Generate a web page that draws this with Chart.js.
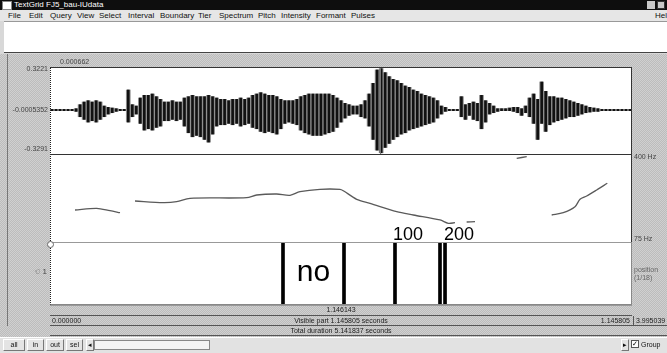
<!DOCTYPE html>
<html>
<head>
<meta charset="utf-8">
<script src="https://cdn.jsdelivr.net/npm/chart.js@4.4.1/dist/chart.umd.min.js"></script>
<style>
  body { margin: 0; width: 667px; height: 353px; overflow: hidden; position: relative;
         font-family: "Liberation Sans", Arial, sans-serif; background: #d8d8d8; }
  .a { position: absolute; white-space: nowrap; }
  .t7 { font-size: 7px; color: #444; line-height: 8px; }
  .menu { top: 11px; font-size: 8px; color: #111; line-height: 9px; }
  .gray { background-color: #c6c6c6;
          background-image: repeating-conic-gradient(#bcbcbc 0 25%, #d0d0d0 0 50%);
          background-size: 2px 2px; }
  .btn { top: 339px; height: 12px; background: #e4e4e4; border: 1px solid #777;
         border-top-color: #fff; border-left-color: #fff; box-sizing: border-box;
         font-size: 7px; line-height: 10px; text-align: center; color: #111; }
  canvas { position: absolute; }
</style>
</head>
<body>

<!-- window title and menu -->
<div class="a" style="left:0;top:0;width:667px;height:10px;background:#0e0e0e"></div>
<div class="a" style="left:2px;top:1px;width:8px;height:7px;background:#fff;border:1px solid #888"></div>
<div class="a" style="left:14px;top:0;font-size:8px;line-height:10px;color:#fff">TextGrid FJ5_bau-IUdata</div>
<div class="a" style="left:647px;top:1px;width:8px;height:8px;background:#c8c8c8"></div>
<div class="a" style="left:657px;top:1px;width:8px;height:8px;background:#c8c8c8;border:1px solid #333;box-sizing:border-box"></div>
<div class="a" style="left:0;top:10px;width:667px;height:11px;background:#e6e6e6"></div>
<div class="a menu" style="left:8px">File</div>
<div class="a menu" style="left:29px">Edit</div>
<div class="a menu" style="left:50px">Query</div>
<div class="a menu" style="left:77px">View</div>
<div class="a menu" style="left:99px">Select</div>
<div class="a menu" style="left:128px">Interval</div>
<div class="a menu" style="left:160px">Boundary</div>
<div class="a menu" style="left:198px">Tier</div>
<div class="a menu" style="left:219px">Spectrum</div>
<div class="a menu" style="left:258px">Pitch</div>
<div class="a menu" style="left:281px">Intensity</div>
<div class="a menu" style="left:316px">Formant</div>
<div class="a menu" style="left:351px">Pulses</div>
<div class="a menu" style="left:655px">Help</div>

<!-- text field -->
<div class="a" style="left:4px;top:21px;width:663px;height:32px;background:#fff;border-top:1px solid #999;border-bottom:1px solid #444;box-sizing:border-box"></div>

<!-- editor area -->
<div class="a gray" style="left:0;top:54px;width:667px;height:283px"></div>
<div class="a" style="left:7px;top:54px;width:1px;height:272px;background:#777"></div>
<div class="a" style="left:50px;top:67px;width:582px;height:238px;background:#fff"></div>

<canvas id="wave" width="582" height="87" style="left:50px;top:67px"></canvas>
<canvas id="pitch" width="582" height="88" style="left:50px;top:154px"></canvas>
<canvas id="tier" width="582" height="85" style="left:50px;top:220px"></canvas>

<!-- frames, cursor -->
<div class="a" style="left:50px;top:67px;width:582px;height:88px;border:1px solid #333;border-left:1px dotted #222;box-sizing:border-box"></div>
<div class="a" style="left:50px;top:154px;width:582px;height:89px;border:1px solid #333;border-left:1px dotted #222;border-top:none;box-sizing:border-box"></div>
<div class="a" style="left:50px;top:242px;width:582px;height:63px;border-left:1px dotted #222;border-right:1px solid #888;border-top:1px solid #999;border-bottom:1px solid #888;box-sizing:border-box"></div>
<div class="a" style="left:380px;top:68px;width:1px;height:86px;background:#777"></div>
<div class="a" style="left:47px;top:241px;width:5px;height:5px;border:1px solid #666;border-radius:50%;background:#fff"></div>

<!-- axis texts -->
<div class="a t7" style="left:60px;top:58px">0.000662</div>
<div class="a t7" style="right:619px;top:65px">0.3221</div>
<div class="a t7" style="right:619px;top:106px">-0.0005352</div>
<div class="a t7" style="right:619px;top:145px">-0.3291</div>
<div class="a t7" style="left:634px;top:153px">400 Hz</div>
<div class="a t7" style="left:634px;top:235px">75 Hz</div>
<div class="a t7" style="left:634px;top:266px;color:#666">position<br>(1/18)</div>
<div class="a t7" style="right:620px;top:268px;font-size:8px">&#9756; 1</div>

<!-- time rows -->
<div class="a" style="left:50px;top:305px;width:582px;height:11px;border-top:1px solid #999;border-bottom:1px solid #555;box-sizing:border-box"></div>
<div class="a t7" style="left:50px;top:306px;width:582px;text-align:center;color:#222">1.146143</div>
<div class="a" style="left:50px;top:316px;width:617px;height:10px;border-bottom:1px solid #555;box-sizing:border-box"></div>
<div class="a" style="left:633px;top:316px;width:1px;height:10px;background:#555"></div>
<div class="a t7" style="left:52px;top:317px;color:#222">0.000000</div>
<div class="a t7" style="left:50px;top:317px;width:582px;text-align:center;color:#222">Visible part 1.145805 seconds</div>
<div class="a t7" style="right:37px;top:317px;color:#222">1.145805</div>
<div class="a t7" style="left:636px;top:317px;color:#222">3.995039</div>
<div class="a" style="left:50px;top:326px;width:617px;height:10px;border-bottom:1px solid #555;box-sizing:border-box"></div>
<div class="a t7" style="left:50px;top:327px;width:582px;text-align:center;color:#222">Total duration 5.141837 seconds</div>

<!-- bottom bar -->
<div class="a" style="left:0;top:337px;width:667px;height:16px;background:#e2e2e2;border-top:1px solid #fff;box-sizing:border-box"></div>
<div class="a btn" style="left:3px;width:22px">all</div>
<div class="a btn" style="left:27px;width:17px">in</div>
<div class="a btn" style="left:46px;width:18px">out</div>
<div class="a btn" style="left:66px;width:17px">sel</div>
<div class="a btn" style="left:86px;width:8px">&#9666;</div>
<div class="a" style="left:94px;top:340px;width:116px;height:10px;background:#f4f4f4;border:1px solid #888;box-sizing:border-box"></div>
<div class="a btn" style="left:621px;width:8px">&#9656;</div>
<div class="a" style="left:631px;top:340px;width:8px;height:8px;background:#fff;border:1px solid #555;box-sizing:border-box;font-size:7px;line-height:6px;text-align:center">&#10003;</div>
<div class="a" style="left:641px;top:340px;font-size:7px;line-height:9px;color:#111">Group</div>

<script>
// Sound: peak envelope per display column (max / min amplitude)
const waveHi = [
  0.005, 0.005, 0.005, 0.005, 0.005, 0.005, 0.01, 0.04, 0.06, 0.07,
  0.06, 0.07, 0.06, 0.03, 0.02, 0.015, 0.01, 0.005, 0.005, 0.15,
  0.04, 0.03, 0.09, 0.11, 0.11, 0.12, 0.10, 0.08, 0.06, 0.06,
  0.07, 0.06, 0.06, 0.09, 0.10, 0.11, 0.10, 0.10, 0.10, 0.11,
  0.10, 0.09, 0.08, 0.08, 0.07, 0.08, 0.08, 0.09, 0.08, 0.09,
  0.11, 0.12, 0.13, 0.12, 0.11, 0.11, 0.10, 0.08, 0.07, 0.07,
  0.07, 0.08, 0.10, 0.11, 0.12, 0.12, 0.12, 0.12, 0.12, 0.12,
  0.11, 0.09, 0.07, 0.05, 0.04, 0.03, 0.03, 0.04, 0.07, 0.12,
  0.20, 0.30, 0.31, 0.28, 0.25, 0.23, 0.22, 0.20, 0.18, 0.17,
  0.15, 0.14, 0.12, 0.11, 0.10, 0.09, 0.07, 0.03, 0.02, 0.005,
  0.005, 0.005, 0.10, 0.04, 0.05, 0.06, 0.05, 0.11, 0.07, 0.05,
  0.03, 0.01, 0.01, 0.01, 0.015, 0.02, 0.02, 0.01, 0.03, 0.09,
  0.12, 0.08, 0.21, 0.14, 0.10, 0.10, 0.09, 0.09, 0.08, 0.07,
  0.06, 0.05, 0.04, 0.03, 0.02, 0.015, 0.01, 0.005, 0.005, 0.005,
  0.005, 0.005, 0.005, 0.005, 0.005
];
const waveLo = [
  -0.005, -0.005, -0.005, -0.005, -0.005, -0.005, -0.01, -0.05, -0.07, -0.09,
  -0.08, -0.09, -0.07, -0.05, -0.03, -0.02, -0.01, -0.005, -0.005, -0.09,
  -0.05, -0.03, -0.10, -0.15, -0.14, -0.15, -0.13, -0.12, -0.08, -0.08,
  -0.07, -0.08, -0.07, -0.12, -0.17, -0.20, -0.19, -0.20, -0.22, -0.24,
  -0.18, -0.12, -0.11, -0.11, -0.10, -0.11, -0.10, -0.12, -0.11, -0.10,
  -0.13, -0.14, -0.16, -0.17, -0.16, -0.17, -0.18, -0.14, -0.10, -0.09,
  -0.10, -0.11, -0.15, -0.17, -0.18, -0.19, -0.19, -0.19, -0.18, -0.17,
  -0.16, -0.13, -0.09, -0.06, -0.04, -0.03, -0.03, -0.05, -0.06, -0.12,
  -0.22, -0.30, -0.32, -0.28, -0.25, -0.22, -0.20, -0.18, -0.17, -0.15,
  -0.14, -0.13, -0.12, -0.11, -0.10, -0.09, -0.06, -0.03, -0.01, -0.005,
  -0.005, -0.005, -0.05, -0.07, -0.04, -0.07, -0.08, -0.14, -0.09, -0.03,
  -0.02, -0.01, -0.005, -0.005, -0.005, -0.01, -0.02, -0.04, -0.02, -0.05,
  -0.10, -0.22, -0.10, -0.16, -0.11, -0.09, -0.08, -0.07, -0.06, -0.05,
  -0.05, -0.04, -0.03, -0.02, -0.015, -0.01, -0.01, -0.005, -0.005, -0.005,
  -0.005, -0.005, -0.005, -0.005, -0.005
];
const ampMin = -0.3291, ampMax = 0.3221;

// Pitch contour (s, Hz), one array pair per voiced stretch
const pitchT1 = [0.0492, 0.0919, 0.1181, 0.1378];
const pitchF1 = [193.2, 199.5, 190.6, 183.2];
const pitchT2 = [0.1673, 0.2231, 0.2494, 0.2756, 0.3872, 0.4069, 0.4463, 0.4725, 0.4922, 0.5315,
                 0.5709, 0.5774, 0.6038, 0.6300, 0.6825, 0.7152, 0.7678, 0.7841, 0.7973];
const pitchF2 = [226.4, 220.2, 223.8, 236.4, 238.6, 248.6, 252.3, 247.5, 260.8, 269.6,
                 269.6, 264.5, 232.7, 217.9, 186.9, 174.7, 156.3, 144.1, 146.3];
const pitchT3 = [0.8203, 0.8367];
const pitchF3 = [148.9, 150.0];
const pitchT4 = [0.9188, 0.9385];
const pitchF4 = [384.1, 390.0];
const pitchT5 = [0.9877, 1.0105, 1.0336, 1.0434, 1.0566, 1.0763, 1.0972];
const pitchF5 = [174.7, 183.2, 205.4, 232.7, 244.9, 267.1, 291.8];
const pitchMin = 75, pitchMax = 400;

// TextGrid tier
const boundaries = [0.4587, 0.5788, 0.6792, 0.7678, 0.7777];
const intervalText = ['no'];            // text of interval boundaries[0]..boundaries[1]
const markTexts = ['100', '200'];
const markTimes = [0.7048, 0.8052];
const tStart = 0, tEnd = 1.145805;

Chart.defaults.animation = false;
Chart.defaults.devicePixelRatio = 1;
Chart.defaults.plugins.legend.display = false;
Chart.defaults.plugins.tooltip.enabled = false;

new Chart(document.getElementById('wave'), {
  type: 'bar',
  data: {
    labels: waveHi.map((_, i) => i),
    datasets: [
      { data: waveHi.map((h, i) => [waveLo[i], h]), backgroundColor: '#8e8e8e',
        barPercentage: 1, categoryPercentage: 1, grouped: false, order: 2 },
      { data: waveHi.map((h, i) => [waveLo[i], h]), backgroundColor: '#111',
        barThickness: 2, grouped: false, order: 1 }
    ]
  },
  options: {
    responsive: false,
    layout: { padding: 0 },
    scales: {
      x: { display: false, offset: true },
      y: { display: false, min: ampMin, max: ampMax }
    }
  }
});

const seg = (ts, fs) => ({
  data: ts.map((t, i) => ({ x: t, y: fs[i] })),
  borderColor: '#5a5a5a', borderWidth: 1.3, pointRadius: 0, tension: 0.3
});

new Chart(document.getElementById('pitch'), {
  type: 'line',
  data: {
    datasets: [
      seg(pitchT1, pitchF1), seg(pitchT2, pitchF2), seg(pitchT3, pitchF3),
      seg(pitchT4, pitchF4), seg(pitchT5, pitchF5)
    ]
  },
  options: {
    responsive: false,
    layout: { padding: 0 },
    scales: {
      x: { type: 'linear', display: false, min: tStart, max: tEnd },
      y: { display: false, min: pitchMin, max: pitchMax }
    }
  }
});

// interval text and point labels on top of the tier
const tierLabels = {
  id: 'tierLabels',
  afterDatasetsDraw(chart) {
    const { ctx, scales: { x }, chartArea } = chart;
    ctx.save();
    ctx.fillStyle = '#000';
    ctx.textAlign = 'center';
    ctx.textBaseline = 'middle';
    ctx.font = '30px "Liberation Sans", Arial, sans-serif';
    const mid = (x.getPixelForValue(boundaries[0]) + x.getPixelForValue(boundaries[1])) / 2;
    ctx.fillText(intervalText[0], mid, (chartArea.top + chartArea.bottom) / 2 - 1);
    ctx.font = '18px "Liberation Sans", Arial, sans-serif';
    ctx.textBaseline = 'alphabetic';
    markTexts.forEach((s, i) => ctx.fillText(s, x.getPixelForValue(markTimes[i]), chartArea.top - 3));
    ctx.restore();
  }
};

new Chart(document.getElementById('tier'), {
  type: 'bar',
  data: {
    datasets: [{
      data: boundaries.map(t => ({ x: t, y: 1 })),
      backgroundColor: '#000', barThickness: 3
    }]
  },
  options: {
    responsive: false,
    layout: { padding: { top: 23 } },
    scales: {
      x: { type: 'linear', display: false, min: tStart, max: tEnd, offset: false },
      y: { display: false, min: 0, max: 1 }
    }
  },
  plugins: [tierLabels]
});
</script>
</body>
</html>
